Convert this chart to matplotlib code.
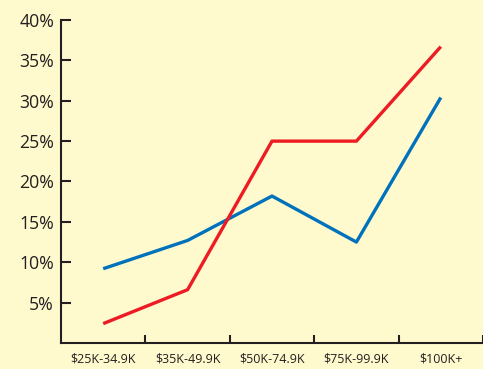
import matplotlib.pyplot as plt
from matplotlib.ticker import FixedLocator

categories = ['$25K-34.9K', '$35K-49.9K', '$50K-74.9K', '$75K-99.9K', '$100K+']
red_values = [2.4, 6.6, 25.0, 25.0, 36.7]
blue_values = [9.2, 12.7, 18.2, 12.5, 30.4]
y_ticks = [5, 10, 15, 20, 25, 30, 35, 40]

BG = '#FFFACD'
INK = '#231F20'

plt.rcParams['font.family'] = ['Open Sans', 'DejaVu Sans']

fig = plt.figure(figsize=(4.83, 3.69), dpi=100, facecolor=BG)
ax = fig.add_axes([61 / 483, 26 / 369, 1 - 61 / 483, (343 - 20) / 369])
ax.set_facecolor(BG)

x = list(range(len(categories)))
ax.plot(x, blue_values, color='#0072BC', lw=2.4, solid_capstyle='butt')
ax.plot(x, red_values, color='#ED1C24', lw=2.4, solid_capstyle='butt')

ax.set_xlim(-0.5, len(categories) - 0.5)
ax.set_ylim(0, 40)

ax.set_yticks(y_ticks)
ax.set_yticklabels([f'{v}%' for v in y_ticks], fontsize=12.7, color=INK)
ax.tick_params(axis='y', direction='in', length=7.5, width=1.5, color=INK, pad=5)

ax.set_xticks(x)
ax.set_xticklabels(categories, fontsize=9, color=INK)
ax.tick_params(axis='x', which='major', length=0, pad=7)
ax.xaxis.set_minor_locator(FixedLocator([i + 0.5 for i in x]))
ax.tick_params(axis='x', which='minor', direction='in', length=5.5, width=1.5, color=INK)

for side in ['top', 'right']:
    ax.spines[side].set_visible(False)
for side in ['left', 'bottom']:
    ax.spines[side].set_linewidth(1.5)
    ax.spines[side].set_color(INK)

fig.savefig('out.png', dpi=100, facecolor=BG)
